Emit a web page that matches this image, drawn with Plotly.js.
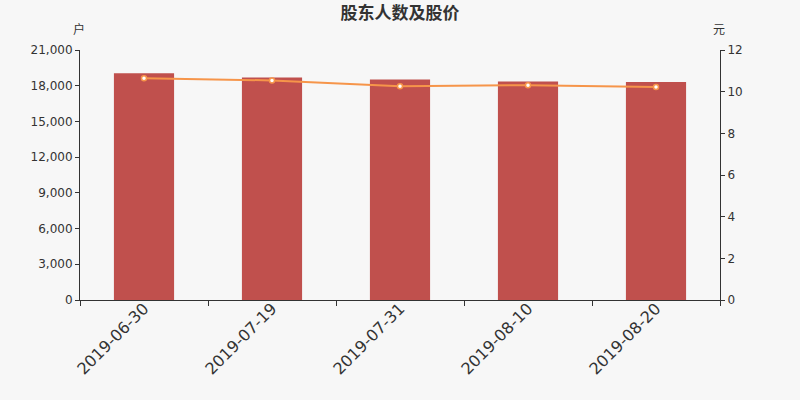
<!DOCTYPE html>
<html><head><meta charset="utf-8">
<script src="https://cdn.plot.ly/plotly-3.0.1.min.js"></script>
<style>html,body{margin:0;padding:0;background:#f7f7f7;}</style>
</head><body>
<div id="chart" style="width:800px;height:400px;"></div>
<script>
const dates = ["2019-06-30","2019-07-19","2019-07-31","2019-08-10","2019-08-20"];
const holders = [19050, 18690, 18520, 18350, 18310];
const prices = [10.65, 10.54, 10.26, 10.31, 10.23];
const leftTicks = [0,3000,6000,9000,12000,15000,18000,21000];
const rightTicks = [0,2,4,6,8,10,12];

const fontFam = '"DejaVu Sans", "Noto Sans CJK SC", sans-serif';
const data = [
  {type:'bar', x:dates, y:holders, marker:{color:'#c0504d'}, width:0.47, hoverinfo:'skip', name:'股东人数'},
  {type:'scatter', mode:'lines+markers', x:dates, y:prices, yaxis:'y2',
   line:{color:'#f6954a', width:2}, marker:{color:'#ffffff', size:5, line:{color:'#f6954a', width:1.5}}, name:'股价'}
];
const layout = {
  width:800, height:400,
  paper_bgcolor:'#f7f7f7', plot_bgcolor:'#f7f7f7',
  margin:{l:80, r:80, t:50, b:100},
  showlegend:false,
  font:{family:fontFam, color:'#333', size:12},
  title:{text:'股东人数及股价', x:0.5, xanchor:'center', y:0.967, yanchor:'middle',
         font:{family:'"Noto Sans CJK SC", sans-serif', size:17, color:'#333', weight:'bold'}},
  xaxis:{type:'category', tickson:'boundaries', ticks:'outside', ticklen:5, tickcolor:'#333',
         showline:true, linecolor:'#333', linewidth:1, showgrid:false, tickangle:-45,
         ticklabelstandoff:-8,
         tickfont:{size:16, color:'#333'}, zeroline:false},
  yaxis:{range:[0,21000], tickvals:leftTicks, ticktext:leftTicks.map(v=>v.toLocaleString('en-US')),
         ticks:'outside', ticklen:4, tickcolor:'#333', showline:true, linecolor:'#333', linewidth:1,
         showgrid:false, zeroline:false, tickfont:{size:12, color:'#333'}},
  yaxis2:{range:[0,12], tickvals:rightTicks, overlaying:'y', side:'right',
         ticks:'outside', ticklen:4, tickcolor:'#333', showline:true, linecolor:'#333', linewidth:1,
         showgrid:false, zeroline:false, tickfont:{size:12, color:'#333'}},
  annotations:[
    {text:'户', xref:'paper', yref:'paper', x:0, y:1, xanchor:'center', yanchor:'middle', xshift:-1, yshift:22, showarrow:false,
     font:{family:'"Noto Sans CJK SC", sans-serif', size:12, color:'#333'}},
    {text:'元', xref:'paper', yref:'paper', x:1, y:1, xanchor:'center', yanchor:'middle', xshift:-1, yshift:22, showarrow:false,
     font:{family:'"Noto Sans CJK SC", sans-serif', size:12, color:'#333'}}
  ]
};
Plotly.newPlot('chart', data, layout, {displayModeBar:false, staticPlot:true});
</script>
</body></html>
